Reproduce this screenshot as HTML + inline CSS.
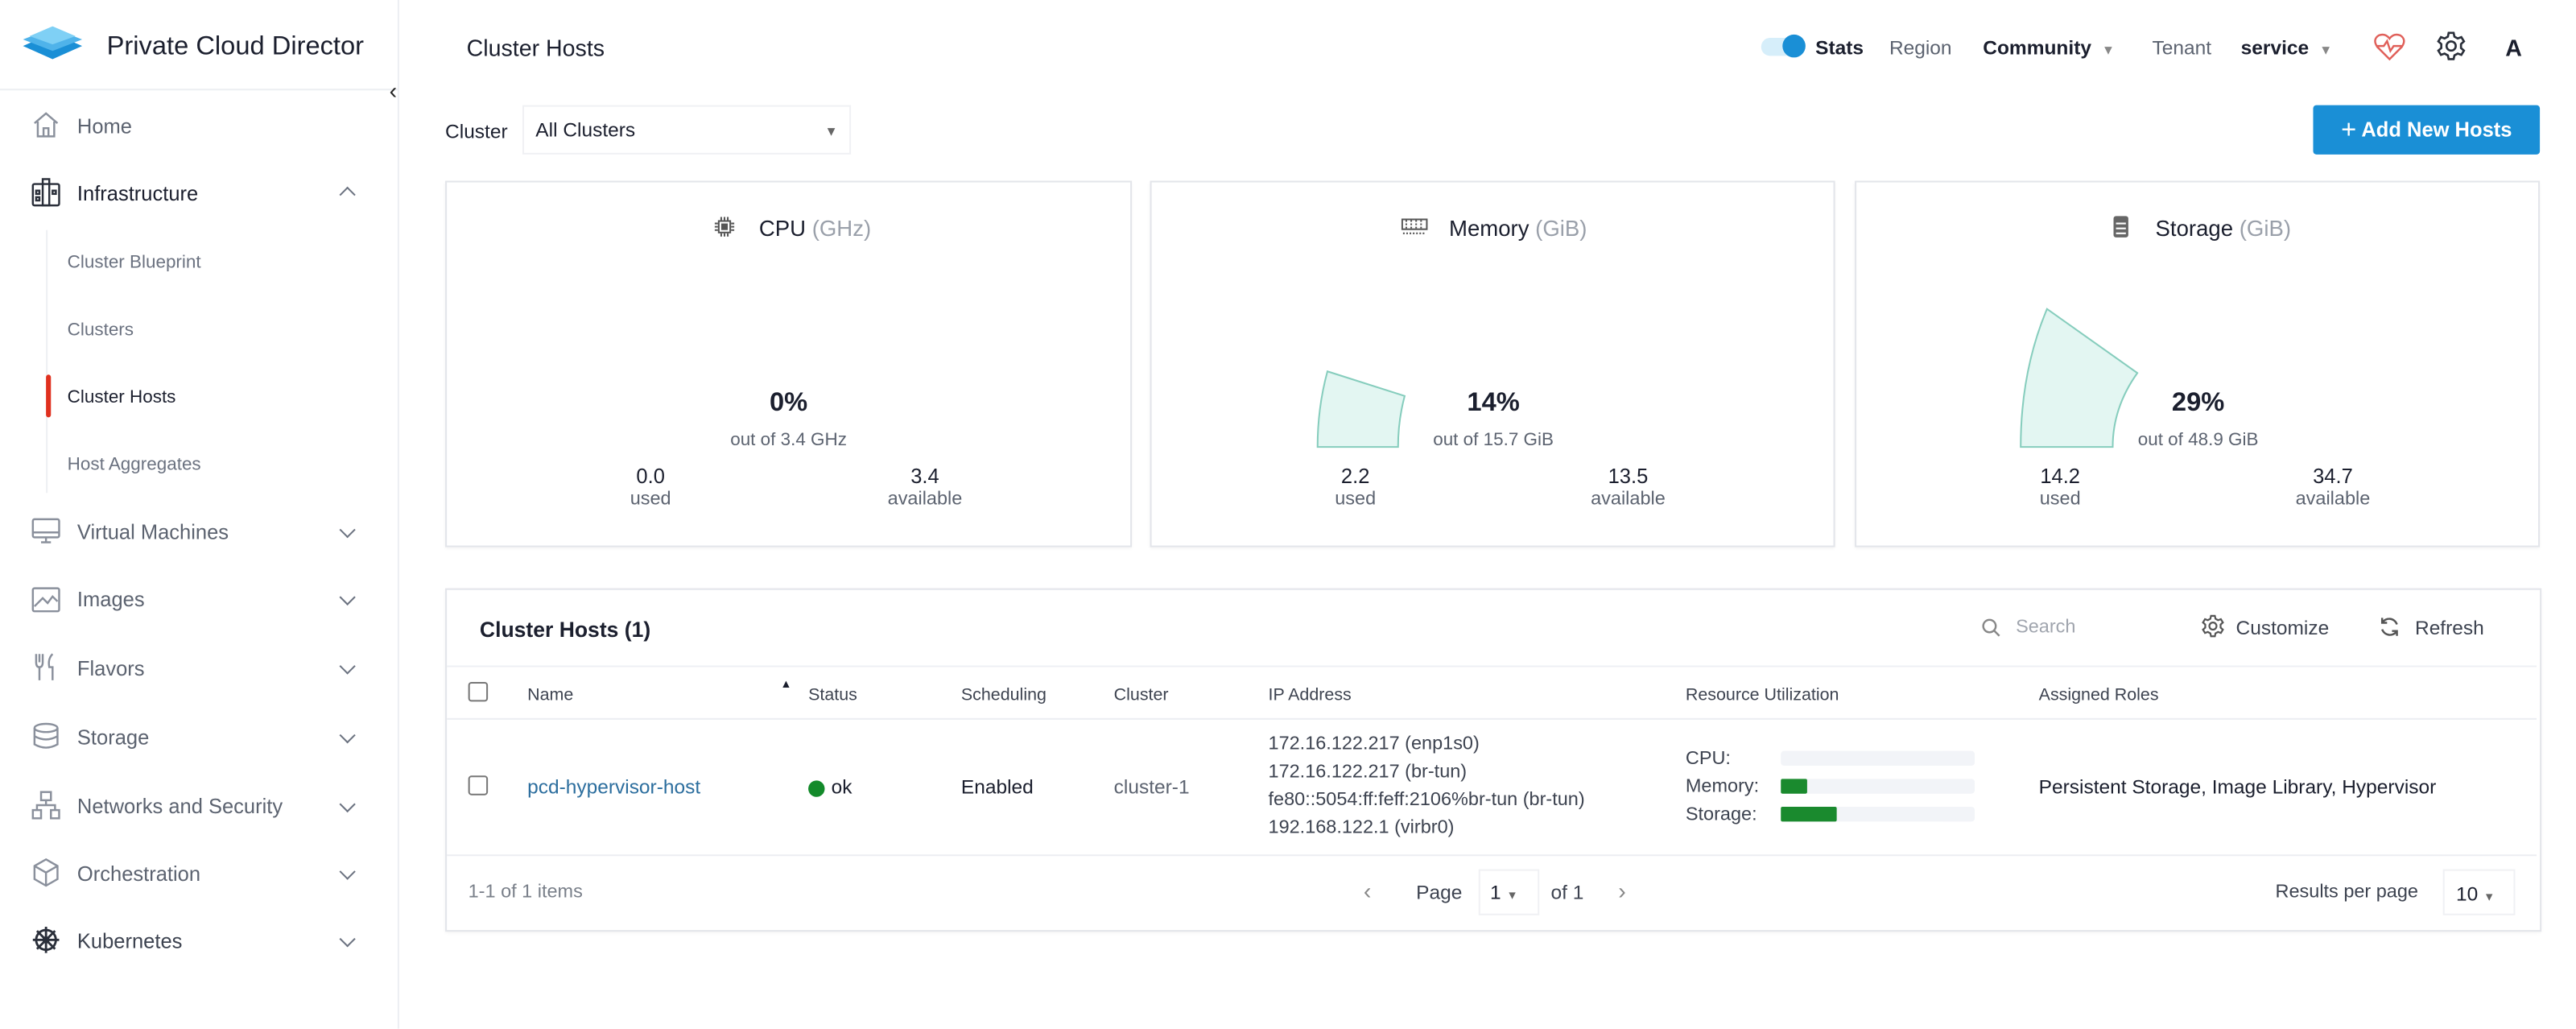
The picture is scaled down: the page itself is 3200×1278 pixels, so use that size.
<!DOCTYPE html>
<html><head><meta charset="utf-8"><style>
html,body{margin:0;padding:0;background:#fff;width:3200px;height:1276px;overflow:hidden}
#w{position:absolute;left:0;top:0;width:1568px;height:626px;transform:scale(2.04082);transform-origin:0 0;font-family:"Liberation Sans",sans-serif;color:#1b1f2e}
.a{position:absolute;white-space:nowrap}
.t{transform:translateY(-50%)}
.nav{font-size:12.5px;color:#5c6370}
.sub{font-size:11px;color:#6b7280}
.chev{position:absolute;width:6px;height:6px;border-right:1.3px solid #6b7280;border-bottom:1.3px solid #6b7280;transform:rotate(45deg)}
.card{position:absolute;border:1px solid #e3e5ea;background:#fff;box-shadow:0 1px 2px rgba(0,0,0,.05)}
.c{text-align:center;transform:translate(-50%,-50%)}
.th{font-size:10.5px;color:#3d4350}
.td{font-size:12px;color:#1b1f2e}
.hr{position:absolute;height:1px;background:#eceef2}
</style></head><body><div id="w">
<!-- sidebar -->
<div class="a" style="left:242px;top:0;width:1px;height:626px;background:#eceef2"></div>
<div class="hr" style="left:0;top:54px;width:242px"></div>
<svg class="a" style="left:12px;top:16px" width="40" height="24" viewBox="0 0 40 24"><polygon points="20,4 38,12 20,20 2,12" fill="#1a8fd6"/><polygon points="20,1 38,8 20,15 2,8" fill="#4fb3ea"/><polygon points="20,0 34,6 20,11 6,6" fill="#7fd0f5"/></svg>
<div class="a t" style="left:65px;top:29px;font-size:16px;color:#1b1f2e">Private Cloud Director</div>
<div class="a t" style="left:237px;top:55px;font-size:14px;color:#222">‹</div>
<div class="a" style="left:28px;top:140px;width:1px;height:160px;background:#eef0f3"></div>
<div class="a" style="left:28px;top:228px;width:3px;height:26px;background:#e0301e;border-radius:2px"></div>

<svg class="a" style="left:19px;top:67px" width="18" height="18" viewBox="0 0 18 18" fill="none" stroke="#8a909c" stroke-width="1.2"><path d="M2 8 L9 2 L16 8 M4 7 V16 H14 V7 M7.5 16 V11 H10.5 V16"/></svg>
<div class="a t nav" style="left:47px;top:77px">Home</div>
<svg class="a" style="left:19px;top:108px" width="18" height="18" viewBox="0 0 18 18" fill="none" stroke="#2a2f3a" stroke-width="1.2"><rect x="1" y="4" width="16" height="13" rx="1"/><rect x="7" y="1" width="4" height="16"/><rect x="3" y="8" width="2" height="2"/><rect x="3" y="12" width="2" height="2"/><rect x="13" y="8" width="2" height="2"/></svg>
<div class="a t" style="left:47px;top:118px;font-size:12.5px;color:#1b1f2e">Infrastructure</div>
<div class="chev" style="left:208px;top:115px;transform:rotate(225deg)"></div>
<div class="a t sub" style="left:41px;top:160px">Cluster Blueprint</div>
<div class="a t sub" style="left:41px;top:201px">Clusters</div>
<div class="a t sub" style="left:41px;top:242px;color:#1b1f2e">Cluster Hosts</div>
<div class="a t sub" style="left:41px;top:283px">Host Aggregates</div>

<svg class="a" style="left:19px;top:314px" width="18" height="18" viewBox="0 0 18 18" fill="none" stroke="#8a909c" stroke-width="1.2"><rect x="1" y="2" width="16" height="11" rx="1"/><path d="M1 10 H17 M6 16 H12 M9 13 V16"/></svg>
<div class="a t nav" style="left:47px;top:324px">Virtual Machines</div>
<svg class="a" style="left:19px;top:356px" width="18" height="18" viewBox="0 0 18 18" fill="none" stroke="#8a909c" stroke-width="1.2"><rect x="1" y="2" width="16" height="14" rx="1"/><path d="M2 13 L7 8 L10 11 L13 7 L16 10"/></svg>
<div class="a t nav" style="left:47px;top:365px">Images</div>
<svg class="a" style="left:19px;top:397px" width="18" height="18" viewBox="0 0 18 18" fill="none" stroke="#8a909c" stroke-width="1.2"><path d="M3 1 V6 Q3 9 5 9 V17 M5 1 V6 M7 1 V6 Q7 9 5 9 M13 1 Q10 4 11 9 H13 V17"/></svg>
<div class="a t nav" style="left:47px;top:407px">Flavors</div>
<svg class="a" style="left:19px;top:439px" width="18" height="18" viewBox="0 0 18 18" fill="none" stroke="#8a909c" stroke-width="1.2"><ellipse cx="9" cy="4" rx="7" ry="2.5"/><path d="M2 4 V14 Q9 18 16 14 V4 M2 9 Q9 13 16 9"/></svg>
<div class="a t nav" style="left:47px;top:449px">Storage</div>
<svg class="a" style="left:19px;top:481px" width="18" height="18" viewBox="0 0 18 18" fill="none" stroke="#8a909c" stroke-width="1.2"><rect x="6" y="1" width="6" height="5"/><rect x="1" y="12" width="5" height="5"/><rect x="12" y="12" width="5" height="5"/><path d="M9 6 V9 M3.5 12 V9 H14.5 V12"/></svg>
<div class="a t nav" style="left:47px;top:491px">Networks and Security</div>
<svg class="a" style="left:19px;top:522px" width="18" height="18" viewBox="0 0 18 18" fill="none" stroke="#8a909c" stroke-width="1.2"><path d="M9 1 L16 5 V13 L9 17 L2 13 V5 Z M2 5 L9 9 L16 5 M9 9 V17"/></svg>
<div class="a t nav" style="left:47px;top:532px">Orchestration</div>
<svg class="a" style="left:19px;top:563px" width="18" height="18" viewBox="0 0 18 18" fill="none" stroke="#2a2f3a" stroke-width="1.4"><circle cx="9" cy="9" r="6"/><circle cx="9" cy="9" r="1.5"/><path d="M9 1 V17 M1 9 H17 M3.5 3.5 L14.5 14.5 M14.5 3.5 L3.5 14.5"/></svg>
<div class="a t nav" style="left:47px;top:573px;color:#3d4350">Kubernetes</div>
<div class="chev" style="left:208px;top:319px"></div>
<div class="chev" style="left:208px;top:360px"></div>
<div class="chev" style="left:208px;top:402px"></div>
<div class="chev" style="left:208px;top:444px"></div>
<div class="chev" style="left:208px;top:486px"></div>
<div class="chev" style="left:208px;top:527px"></div>
<div class="chev" style="left:208px;top:568px"></div>

<!-- header -->
<div class="a t" style="left:284px;top:29px;font-size:14px">Cluster Hosts</div>
<div class="a" style="left:1072px;top:23px;width:26px;height:11px;border-radius:6px;background:#d6eefa"></div>
<div class="a" style="left:1085px;top:21px;width:14px;height:14px;border-radius:50%;background:#1a8fd6"></div>
<div class="a t" style="left:1105px;top:29px;font-size:12px;font-weight:bold;color:#1b1f2e">Stats</div>
<div class="a t" style="left:1150px;top:29px;font-size:12px;color:#5c6370">Region</div>
<div class="a t" style="left:1207px;top:29px;font-size:12px;font-weight:bold">Community <span style="color:#888;font-size:8px;margin-left:3px">▼</span></div>
<div class="a t" style="left:1310px;top:29px;font-size:12px;color:#5c6370">Tenant</div>
<div class="a t" style="left:1364px;top:29px;font-size:12px;font-weight:bold">service <span style="color:#888;font-size:8px;margin-left:3px">▼</span></div>
<svg class="a" style="left:1445px;top:20px" width="19" height="17" viewBox="0 0 19 17" fill="none" stroke="#e0605a" stroke-width="1.2"><path d="M9.5 16 L2 8.5 Q-1 4 3 1.5 Q7 0 9.5 3.5 Q12 0 16 1.5 Q20 4 17 8.5 Z M2 8 H6 L8 5 L10 11 L12 8 H17"/></svg>
<svg class="a" style="left:1483px;top:19px" width="18" height="18" viewBox="0 0 18 18" fill="none" stroke="#2a2f3a" stroke-width="1.3"><circle cx="9" cy="9" r="2.8"/><path d="M7.5 1 H10.5 L11 3.3 L13 4.4 L15.2 3.6 L16.8 6.2 L15 7.8 V10.2 L16.8 11.8 L15.2 14.4 L13 13.6 L11 14.7 L10.5 17 H7.5 L7 14.7 L5 13.6 L2.8 14.4 L1.2 11.8 L3 10.2 V7.8 L1.2 6.2 L2.8 3.6 L5 4.4 L7 3.3 Z"/></svg>
<div class="a t" style="left:1525px;top:29px;font-size:14px;font-weight:bold">A</div>

<!-- cluster row -->
<div class="a t" style="left:271px;top:80px;font-size:12px">Cluster</div>
<div class="a" style="left:318px;top:64px;width:200px;height:30px;border:1px solid #f0f1f4;box-sizing:border-box"></div>
<div class="a t" style="left:326px;top:79px;font-size:12px">All Clusters</div>
<div class="a t" style="left:502px;top:80px;font-size:8px;color:#666">▼</div>
<div class="a" style="left:1408px;top:64px;width:138px;height:30px;background:#1a8fd6;border-radius:2px;color:#fff;font-size:12.5px;font-weight:bold;line-height:30px;text-align:center"><span style="font-weight:normal;font-size:16px;vertical-align:-1px">+</span> Add New Hosts</div>

<!-- cards -->
<div class="card" style="left:271px;top:110px;width:416px;height:221px"></div>
<div class="card" style="left:700px;top:110px;width:415px;height:221px"></div>
<div class="card" style="left:1129px;top:110px;width:415px;height:221px"></div>

<svg class="a" style="left:435px;top:132px" width="12" height="12" viewBox="0 0 12 12" fill="none" stroke="#555" stroke-width="1"><rect x="2.5" y="2.5" width="7" height="7"/><rect x="4.5" y="4.5" width="3" height="3" fill="#555"/><path d="M4 0V2M6 0V2M8 0V2M4 10V12M6 10V12M8 10V12M0 4H2M0 6H2M0 8H2M10 4H12M10 6H12M10 8H12"/></svg>
<div class="a t" style="left:462px;top:139px;font-size:13.5px">CPU <span style="color:#9aa0aa">(GHz)</span></div>
<svg class="a" style="left:853px;top:133px" width="16" height="10" viewBox="0 0 16 10" fill="none" stroke="#555" stroke-width="1"><rect x="0.5" y="0.5" width="15" height="6"/><path d="M3 1V6M6 1V6M9 1V6M12 1V6M1 9H15" stroke-dasharray="1 1"/></svg>
<div class="a t" style="left:882px;top:139px;font-size:13.5px">Memory <span style="color:#9aa0aa">(GiB)</span></div>
<svg class="a" style="left:1286px;top:131px" width="10" height="14" viewBox="0 0 10 14"><rect x="0.5" y="0.5" width="9" height="13" rx="1.5" fill="#666"/><path d="M2 5H8M2 8H8M2 11H8" stroke="#fff" stroke-width="1"/></svg>
<div class="a t" style="left:1312px;top:139px;font-size:13.5px">Storage <span style="color:#9aa0aa">(GiB)</span></div>

<svg class="a" style="left:0;top:0" width="1568" height="626"><path d="M808 226 L855 241 Q851 256 851 272 L802 272 Q802 248 808 226 Z" fill="#e3f6f2" stroke="#86cdbd" stroke-width="1"/><path d="M1246 188 L1301 227 Q1286 248 1286 272 L1230 272 Q1230 226 1246 188 Z" fill="#e3f6f2" stroke="#86cdbd" stroke-width="1"/></svg>

<div class="a c" style="left:480px;top:246px;font-size:16px;font-weight:bold">0%</div>
<div class="a c" style="left:480px;top:268px;font-size:11px;color:#5c6370">out of 3.4 GHz</div>
<div class="a c" style="left:396px;top:290px;font-size:12.5px">0.0</div>
<div class="a c" style="left:396px;top:304px;font-size:11.5px;color:#5c6370">used</div>
<div class="a c" style="left:563px;top:290px;font-size:12.5px">3.4</div>
<div class="a c" style="left:563px;top:304px;font-size:11.5px;color:#5c6370">available</div>

<div class="a c" style="left:909px;top:246px;font-size:16px;font-weight:bold">14%</div>
<div class="a c" style="left:909px;top:268px;font-size:11px;color:#5c6370">out of 15.7 GiB</div>
<div class="a c" style="left:825px;top:290px;font-size:12.5px">2.2</div>
<div class="a c" style="left:825px;top:304px;font-size:11.5px;color:#5c6370">used</div>
<div class="a c" style="left:991px;top:290px;font-size:12.5px">13.5</div>
<div class="a c" style="left:991px;top:304px;font-size:11.5px;color:#5c6370">available</div>

<div class="a c" style="left:1338px;top:246px;font-size:16px;font-weight:bold">29%</div>
<div class="a c" style="left:1338px;top:268px;font-size:11px;color:#5c6370">out of 48.9 GiB</div>
<div class="a c" style="left:1254px;top:290px;font-size:12.5px">14.2</div>
<div class="a c" style="left:1254px;top:304px;font-size:11.5px;color:#5c6370">used</div>
<div class="a c" style="left:1420px;top:290px;font-size:12.5px">34.7</div>
<div class="a c" style="left:1420px;top:304px;font-size:11.5px;color:#5c6370">available</div>

<!-- table -->
<div class="card" style="left:271px;top:358px;width:1274px;height:207px"></div>
<div class="a t" style="left:292px;top:383px;font-size:13px;font-weight:bold">Cluster Hosts (1)</div>
<svg class="a" style="left:1206px;top:376px" width="12" height="12" viewBox="0 0 12 12" fill="none" stroke="#888" stroke-width="1.2"><circle cx="5" cy="5" r="3.8"/><path d="M8 8 L11 11"/></svg>
<div class="a t" style="left:1227px;top:382px;font-size:11.5px;color:#a0a5ae">Search</div>
<svg class="a" style="left:1340px;top:374px" width="14" height="14" viewBox="0 0 18 18" fill="none" stroke="#555" stroke-width="1.4"><circle cx="9" cy="9" r="2.8"/><path d="M7.5 1 H10.5 L11 3.3 L13 4.4 L15.2 3.6 L16.8 6.2 L15 7.8 V10.2 L16.8 11.8 L15.2 14.4 L13 13.6 L11 14.7 L10.5 17 H7.5 L7 14.7 L5 13.6 L2.8 14.4 L1.2 11.8 L3 10.2 V7.8 L1.2 6.2 L2.8 3.6 L5 4.4 L7 3.3 Z"/></svg>
<div class="a t" style="left:1361px;top:382px;font-size:12px;color:#3d4350">Customize</div>
<svg class="a" style="left:1448px;top:375px" width="13" height="13" viewBox="0 0 13 13" fill="none" stroke="#555" stroke-width="1.2"><path d="M11 5 A5 5 0 0 0 2 4 M2 1 V4 H5 M2 8 A5 5 0 0 0 11 9 M11 12 V9 H8"/></svg>
<div class="a t" style="left:1470px;top:382px;font-size:12px;color:#3d4350">Refresh</div>
<div class="hr" style="left:272px;top:405px;width:1272px;background:#eef0f4"></div>
<div class="a" style="left:285px;top:415px;width:12px;height:12px;border:1px solid #777;border-radius:2px;box-sizing:border-box"></div>
<div class="a t th" style="left:321px;top:423px">Name</div>
<div class="a t" style="left:475px;top:417px;font-size:7px">▲</div>
<div class="a t th" style="left:492px;top:423px">Status</div>
<div class="a t th" style="left:585px;top:423px">Scheduling</div>
<div class="a t th" style="left:678px;top:423px">Cluster</div>
<div class="a t th" style="left:772px;top:423px">IP Address</div>
<div class="a t th" style="left:1026px;top:423px">Resource Utilization</div>
<div class="a t th" style="left:1241px;top:423px">Assigned Roles</div>
<div class="hr" style="left:272px;top:437px;width:1272px"></div>
<div class="a" style="left:285px;top:472px;width:12px;height:12px;border:1px solid #777;border-radius:2px;box-sizing:border-box"></div>
<div class="a t td" style="left:321px;top:479px;color:#2c6e9e">pcd-hypervisor-host</div>
<div class="a" style="left:492px;top:475px;width:10px;height:10px;border-radius:50%;background:#138a2a"></div>
<div class="a t td" style="left:506px;top:479px">ok</div>
<div class="a t td" style="left:585px;top:479px">Enabled</div>
<div class="a t td" style="left:678px;top:479px;color:#5c6370">cluster-1</div>
<div class="a t" style="left:772px;top:453px;font-size:11.5px;color:#3d4350">172.16.122.217 (enp1s0)</div>
<div class="a t" style="left:772px;top:470px;font-size:11.5px;color:#3d4350">172.16.122.217 (br-tun)</div>
<div class="a t" style="left:772px;top:487px;font-size:11.5px;color:#3d4350">fe80::5054:ff:feff:2106%br-tun (br-tun)</div>
<div class="a t" style="left:772px;top:504px;font-size:11.5px;color:#3d4350">192.168.122.1 (virbr0)</div>
<div class="a t" style="left:1026px;top:462px;font-size:11.5px;color:#3d4350">CPU:</div>
<div class="a t" style="left:1026px;top:479px;font-size:11.5px;color:#3d4350">Memory:</div>
<div class="a t" style="left:1026px;top:496px;font-size:11.5px;color:#3d4350">Storage:</div>
<div class="a" style="left:1084px;top:457px;width:118px;height:9px;background:#f2f4f8;border-radius:2px"></div>
<div class="a" style="left:1084px;top:474px;width:118px;height:9px;background:#f2f4f8;border-radius:2px"></div>
<div class="a" style="left:1084px;top:474px;width:16px;height:9px;background:#1a8a2e;border-radius:1px"></div>
<div class="a" style="left:1084px;top:491px;width:118px;height:9px;background:#f2f4f8;border-radius:2px"></div>
<div class="a" style="left:1084px;top:491px;width:34px;height:9px;background:#1a8a2e;border-radius:1px"></div>
<div class="a t td" style="left:1241px;top:479px">Persistent Storage, Image Library, Hypervisor</div>
<div class="hr" style="left:272px;top:520px;width:1272px"></div>
<div class="a t" style="left:285px;top:543px;font-size:11.5px;color:#7a808a">1-1 of 1 items</div>
<div class="a t" style="left:830px;top:542px;font-size:14px;color:#888">‹</div>
<div class="a t" style="left:862px;top:543px;font-size:12px;color:#3d4350">Page</div>
<div class="a" style="left:900px;top:529px;width:37px;height:28px;border:1px solid #f0f1f4;box-sizing:border-box"></div>
<div class="a t" style="left:907px;top:543px;font-size:12px">1 <span style="font-size:7px;color:#666">▼</span></div>
<div class="a t" style="left:944px;top:543px;font-size:12px;color:#3d4350">of 1</div>
<div class="a t" style="left:985px;top:542px;font-size:14px;color:#888">›</div>
<div class="a t" style="left:1385px;top:543px;font-size:11.5px;color:#3d4350">Results per page</div>
<div class="a" style="left:1487px;top:529px;width:44px;height:28px;border:1px solid #f0f1f4;box-sizing:border-box"></div>
<div class="a t" style="left:1495px;top:544px;font-size:12px">10 <span style="font-size:7px;color:#666">▼</span></div>
</div></body></html>
